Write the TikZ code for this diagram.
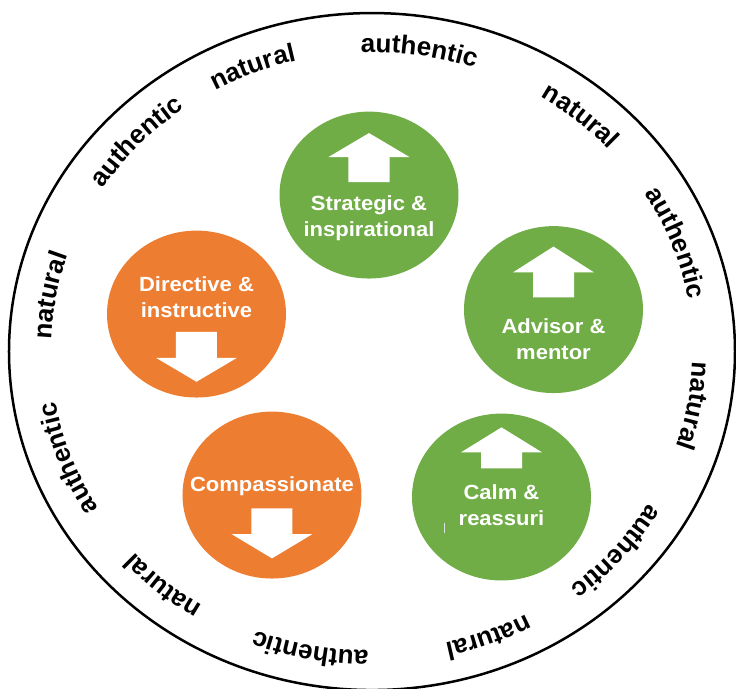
\documentclass[tikz,border=0pt]{standalone}
\usepackage{fontspec}
\setmainfont{Liberation Sans}
\usetikzlibrary{decorations.text}

\newcommand{\ringfont}{\bfseries\fontsize{26}{26}\selectfont}
\newcommand{\bubblefont}{\bfseries\fontsize{22}{27.9}\selectfont}

\tikzset{
  bubble/.style={circle, minimum size=179pt, inner sep=0pt},
  bubbletext/.style={text=white, font=\bubblefont, align=center, inner sep=0pt},
}

\begin{document}
\begin{tikzpicture}[x=1pt, y=1pt, yscale=0.9325, transform shape]
    % Define colors for the two groups
    \definecolor{leafgreen}{RGB}{112,173,71}
    \definecolor{tangerine}{RGB}{237,125,49}

    \useasboundingbox (-372,-360.9) rectangle (364,377);

    % Outer ring
    \draw[line width=2.5pt] (0,0) circle[radius=363];

    % Words set clockwise along the inside of the ring
    \def\ringrad{321}
    \foreach \ang/\word in {81.6/authentic, 50.2/natural, 20.8/authentic, -10.2/natural,
                            -41/authentic, -69/natural, -101/authentic, -130/natural,
                            -159.5/authentic, 169.5/natural, 136.5/authentic, 111.5/natural} {
        \pgfmathsetmacro{\angA}{\ang+18}
        \pgfmathsetmacro{\angB}{\ang-18}
        \edef\ringword{\noexpand\path[decorate, decoration={text along path,
            text align=center, text={|\noexpand\ringfont|\word}}]
            (\angA:\ringrad) arc[start angle=\angA, end angle=\angB, radius=\ringrad];}
        \ringword
    }

    % Style bubbles: centre, colour, text offset, arrow (shaft start, head base, tip)
    \foreach \name/\cx/\cy/\col/\ty/\sa/\sb/\tip/\lbl in {
        strategic/-3/167.8/leafgreen/-24.3/13.9/40.8/66.5/{Strategic \& \\ inspirational},
        advisor/181.5/45/leafgreen/-31.6/13.1/39.9/67.6/{Advisor \& \\ mentor},
        calm/129.5/-156/leafgreen/-8.6/30.8/47.9/74.7/{Calm \& \\ reassuri},
        compassionate/-100/-153.9/tangerine/10/-14.3/-41.8/-67.9/{Compassionate},
        directive/-175.5/40.2/tangerine/18.2/-19/-46.9/-72.6/{Directive \& \\ instructive}} {
        \node[bubble, fill=\col] (\name) at (\cx,\cy) {};
        \node[bubbletext] (\name-text) at (\cx,\cy+\ty) {\lbl};
        % Block arrow, up or down depending on the sign of the offsets
        \fill[white] (\cx-20.5,\cy+\sa) -- (\cx-20.5,\cy+\sb) -- (\cx-40.5,\cy+\sb)
            -- (\cx,\cy+\tip) -- (\cx+40.5,\cy+\sb) -- (\cx+20.5,\cy+\sb)
            -- (\cx+20.5,\cy+\sa) -- cycle;
    }

    % Stray cursor mark left in the calm bubble
    \draw[white!88!black, line width=0.8pt] (72.3,-184) -- (72.3,-194.6);
\end{tikzpicture}
\end{document}
